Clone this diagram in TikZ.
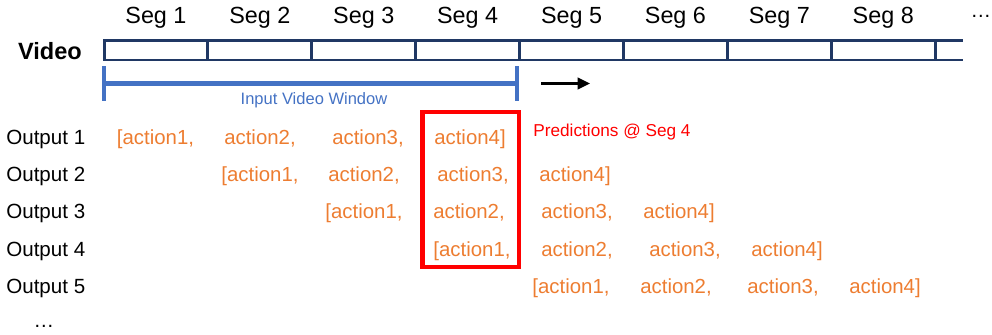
\documentclass[tikz,border=0pt]{standalone}
\usepackage{fontspec}
\setmainfont{Liberation Sans}
\usetikzlibrary{positioning, arrows.meta, calc}
\definecolor{colorVideo}{RGB}{32,56,100}
\definecolor{colorVentana}{RGB}{68,114,196}
\definecolor{colorAccion}{RGB}{237,125,49}
\definecolor{colorPred}{RGB}{255,0,0}

\begin{document}
\begin{tikzpicture}[
	x=0.02cm, y=-0.02cm,
	font=\fontsize{11.7}{14}\selectfont,
	segmento/.style={rectangle, draw=colorVideo, line width=1.7pt, outer sep=0pt, inner sep=0pt,
	                 minimum width=2.078cm, minimum height=0.386cm},
	barra/.style={draw=colorVideo, line width=1.7pt},
	etiqueta/.style={anchor=base, font=\fontsize{13.3}{16}\selectfont},
	salida/.style={anchor=base west, inner sep=0pt},
	accion/.style={anchor=base, text=colorAccion, font=\fontsize{11.6}{14}\selectfont},
	ventana/.style={draw=colorVentana, line width=2.3pt},
	prediccion/.style={rectangle, draw=colorPred, line width=2.3pt, minimum width=1.93cm, minimum height=3.1cm},
	flecha/.style={-{Triangle[length=7pt, width=6.5pt]}, draw=black, line width=1.6pt},
	]
\useasboundingbox (0,0) rectangle (992,335);

% Barra del video
\node[anchor=base, font=\fontsize{13.4}{16}\selectfont\bfseries] (video) at (50,59) {Video};
\node[segmento] (c1) at (155.95,50.35) {};
\node[segmento] (c2) at (259.85,50.35) {};
\node[segmento] (c3) at (363.75,50.35) {};
\node[segmento] (c4) at (467.65,50.35) {};
\node[segmento] (c5) at (571.55,50.35) {};
\node[segmento] (c6) at (675.45,50.35) {};
\node[segmento] (c7) at (779.35,50.35) {};
\node[segmento] (c8) at (883.25,50.35) {};
\coordinate (fin) at (962.7,50.35);
\draw[barra] (c8.north east) -- (c8.north east -| fin);
\draw[barra] (c8.south east) -- (c8.south east -| fin);

\node[etiqueta] (s1) at (155.95,23) {Seg 1};
\node[etiqueta] (s2) at (259.85,23) {Seg 2};
\node[etiqueta] (s3) at (363.75,23) {Seg 3};
\node[etiqueta] (s4) at (467.65,23) {Seg 4};
\node[etiqueta] (s5) at (571.55,23) {Seg 5};
\node[etiqueta] (s6) at (675.45,23) {Seg 6};
\node[etiqueta] (s7) at (779.35,23) {Seg 7};
\node[etiqueta] (s8) at (883.25,23) {Seg 8};
\node[anchor=base] (smas) at (981,17) {…};

% Ventana de entrada
\coordinate (vi) at (104,83.5);
\coordinate (vd) at (517,83.5);
\draw[ventana] (vi) -- (vd);
\draw[ventana] (vi) ++(0,-17.5) -- ++(0,35);
\draw[ventana] (vd) ++(0,-17.5) -- ++(0,35);
\node[anchor=base, text=colorVentana, font=\fontsize{9.4}{11}\selectfont] (vtexto) at (314,104) {Input Video Window};

\coordinate (f0) at (541,83.5);
\coordinate (f1) at (590,83.5);
\draw[flecha] (f0) -- (f1);

% Salidas
\node[salida] (o1) at (6,144) {Output 1};
\node[salida] (o2) at (6,181) {Output 2};
\node[salida] (o3) at (6,218.5) {Output 3};
\node[salida] (o4) at (6,256) {Output 4};
\node[salida] (o5) at (6,293) {Output 5};
\node[anchor=base] (omas) at (44,327) {…};

\node[accion] (r1a1) at (155.5,144) {[action1,};
\node[accion] (r1a2) at (260,144) {action2,};
\node[accion] (r1a3) at (368,144) {action3,};
\node[accion] (r1a4) at (470,144) {action4]};

\node[accion] (r2a1) at (260,181) {[action1,};
\node[accion] (r2a2) at (364,181) {action2,};
\node[accion] (r2a3) at (473,181) {action3,};
\node[accion] (r2a4) at (575,181) {action4]};

\node[accion] (r3a1) at (364,218.5) {[action1,};
\node[accion] (r3a2) at (469,218.5) {action2,};
\node[accion] (r3a3) at (577,218.5) {action3,};
\node[accion] (r3a4) at (679,218.5) {action4]};

\node[accion] (r4a1) at (472,256) {[action1,};
\node[accion] (r4a2) at (577,256) {action2,};
\node[accion] (r4a3) at (685,256) {action3,};
\node[accion] (r4a4) at (787,256) {action4]};

\node[accion] (r5a1) at (571,293) {[action1,};
\node[accion] (r5a2) at (676,293) {action2,};
\node[accion] (r5a3) at (783,293) {action3,};
\node[accion] (r5a4) at (885,293) {action4]};

% Predicciones en el segmento 4
\node[prediccion] (p4) at (470.75,189.5) {};
\node[anchor=base west, inner sep=0pt, text=colorPred, font=\fontsize{9.8}{12}\selectfont] (ptexto) at (533,136) {Predictions @ Seg 4};

\end{tikzpicture}
\end{document}
